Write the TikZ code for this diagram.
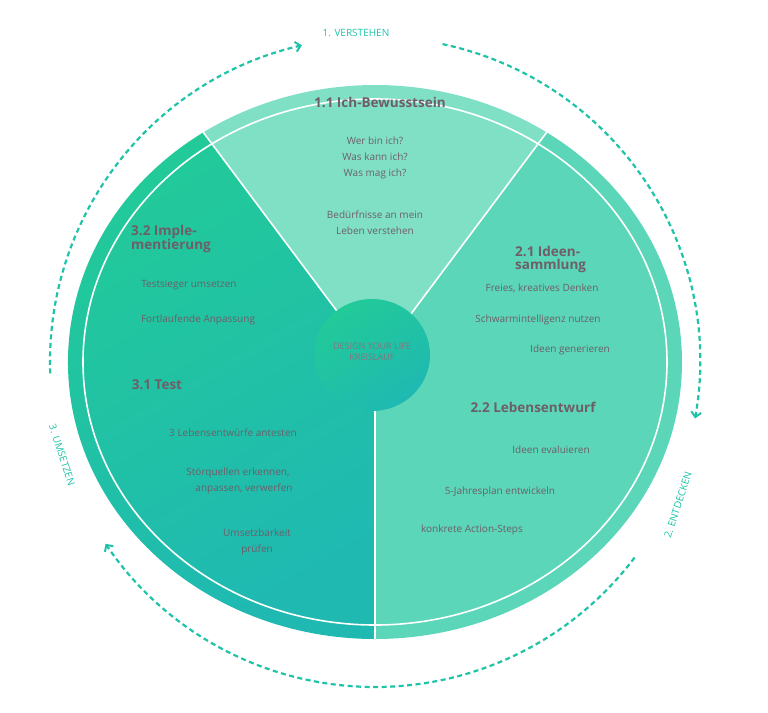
\documentclass[tikz,border=0pt]{standalone}
\usepackage{fontspec}
\setmainfont{Open Sans}
\usetikzlibrary{arrows.meta,calc}

\definecolor{mintTop}{HTML}{80E0C6}
\definecolor{mintRight}{HTML}{5BD6B8}
\definecolor{mintLeft}{HTML}{22CA98}
\definecolor{mintDeep}{HTML}{1FB9B2}
\definecolor{cycleCol}{HTML}{1EC3A8}
\definecolor{txtCol}{HTML}{6E5E68}

\tikzstyle{secTitle} = [font=\bfseries\fontsize{13.5}{14}\selectfont, text=txtCol, align=left, inner sep=0pt]
\tikzstyle{secItem} = [font=\fontsize{10}{16}\selectfont, text=txtCol, align=center, inner sep=0pt]
\tikzstyle{phase} = [font=\fontsize{10}{12}\selectfont, text=cycleCol, inner sep=0pt]
\tikzstyle{cycleArrow} = [draw=cycleCol, line width=2.2pt, dash pattern=on 5pt off 3.5pt, -{Straight Barb[length=5pt,width=10pt,line width=2pt]}]
\tikzstyle{divider} = [draw=white, line width=1.6pt]

\begin{document}
\begin{tikzpicture}[x=1pt, y=1pt]
    \useasboundingbox (0,0) rectangle (768,-712);
    \coordinate (c) at (375,-362);

    % sectors
    \fill[mintTop] (c) -- +(56:307 and 277) arc[start angle=56, end angle=124, x radius=307, y radius=277] -- cycle;
    \fill[mintRight] (c) -- +(-90:307 and 277) arc[start angle=-90, end angle=56, x radius=307, y radius=277] -- cycle;
    \shade[shading=axis, top color=mintLeft, bottom color=mintDeep, shading angle=30] (c) -- +(124:307 and 277) arc[start angle=124, end angle=270, x radius=307, y radius=277] -- cycle;

    % white ring and dividers
    \draw[divider] (c) ellipse[x radius=292, y radius=263];
    \draw[divider] (c) -- +(56:307 and 277);
    \draw[divider] (c) -- +(124:307 and 277);
    \draw[divider] (c) -- +(-90:307 and 277);

    % centre
    \shade[shading=axis, top color=mintLeft, bottom color=mintDeep, shading angle=35] (372,-355) ellipse[x radius=58, y radius=56];
    \node[font=\fontsize{9}{11}\selectfont, text=txtCol!85, align=center, inner sep=0pt] (hub) at (372,-352) {DESIGN YOUR LIFE\\KREISLAUF};

    % cycle arrows
    \draw[cycleArrow] ($(c)+(182:325)$) arc[start angle=182, end angle=103, radius=325];
    \draw[cycleArrow] ($(c)+(78:325)$) arc[start angle=78, end angle=-10, radius=325];
    \draw[cycleArrow] ($(c)+(-37:325)$) arc[start angle=-37, end angle=-146, radius=325];
    \node[phase] (verstehen) at (356,-33) {1. VERSTEHEN};
    \node[phase, rotate=72] (entdecken) at (678,-505) {2. ENTDECKEN};
    \node[phase, rotate=-72] (umsetzen) at (62,-455) {3. UMSETZEN};

    % 1.1
    \node[secTitle] (selbst) at (380,-102) {1.1 Ich-Bewusstsein};
    \node[secItem] (fragen) at (375,-158) {Wer bin ich?\\Was kann ich?\\Was mag ich?};
    \node[secItem] (beduerf) at (375,-223) {Bedürfnisse an mein\\Leben verstehen};

    % 2.1 / 2.2
    \node[secTitle, anchor=west, font=\bfseries\fontsize{13.5}{13}\selectfont] (ideen) at (515,-259) {2.1 Ideen-\\sammlung};
    \node[secItem] (frei) at (542,-288) {Freies, kreatives Denken};
    \node[secItem] (schwarm) at (538,-320) {Schwarmintelligenz nutzen};
    \node[secItem] (generieren) at (570,-350) {Ideen generieren};
    \node[secTitle] (entwurf) at (533,-407) {2.2 Lebensentwurf};
    \node[secItem] (evaluieren) at (551,-450) {Ideen evaluieren};
    \node[secItem] (jahresplan) at (500,-492) {5-Jahresplan entwickeln};
    \node[secItem] (steps) at (472,-530) {konkrete Action-Steps};

    % 3.2 / 3.1
    \node[secTitle, anchor=west, font=\bfseries\fontsize{13.5}{13}\selectfont] (impl) at (131,-239) {3.2 Imple-\\mentierung};
    \node[secItem] (sieger) at (189,-285) {Testsieger umsetzen};
    \node[secItem] (anpassung) at (198,-320) {Fortlaufende Anpassung};
    \node[secTitle] (test) at (157,-385) {3.1 Test};
    \node[secItem] (antesten) at (233,-433) {3 Lebensentwürfe antesten};
    \node[secItem] (stoer) at (238,-481) {Störquellen erkennen,\\\hspace*{1.2em}anpassen, verwerfen};
    \node[secItem] (umsetzbar) at (257,-542) {Umsetzbarkeit\\prüfen};
\end{tikzpicture}
\end{document}
